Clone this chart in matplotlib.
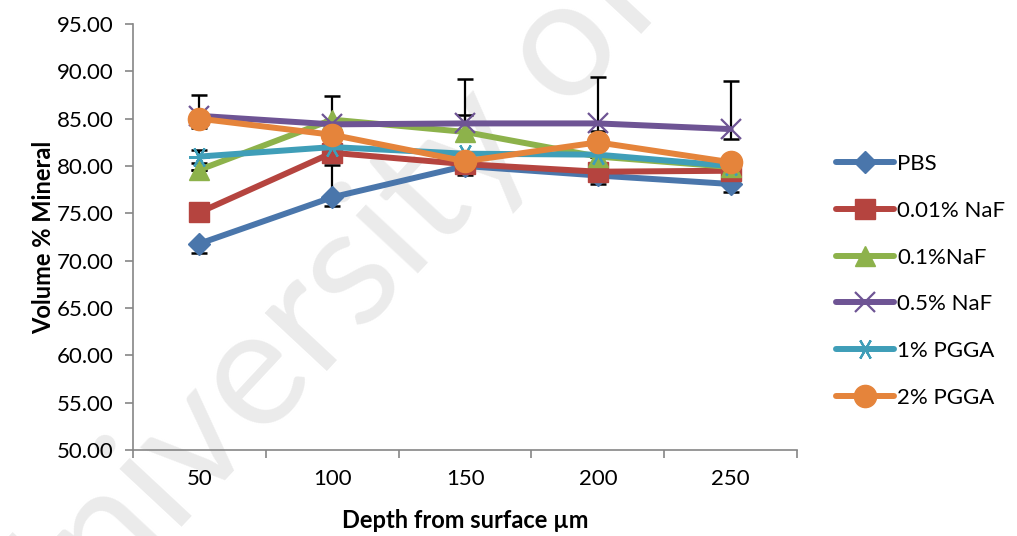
import numpy as np
import matplotlib
matplotlib.use("Agg")
import matplotlib.pyplot as plt

plt.rcParams['font.family'] = ['Lato', 'DejaVu Sans']

depths = ["50", "100", "150", "200", "250"]
series_names = ["PBS", "0.01% NaF", "0.1%NaF", "0.5% NaF", "1% PGGA", "2% PGGA"]

pbs = [71.8, 76.7, 80.0, 79.0, 78.1]
naf_001 = [75.1, 81.4, 80.2, 79.4, 79.5]
naf_01 = [79.6, 84.9, 83.6, 81.0, 79.9]
naf_05 = [85.3, 84.4, 84.5, 84.5, 83.9]
pgga_1 = [81.0, 82.0, 81.3, 81.2, 80.0]
pgga_2 = [85.0, 83.3, 80.5, 82.5, 80.4]

# error bars (lower, upper) as read from the caps
pbs_err = [[1.0, 0.95, 0.95, 0.9, 0.85], [0, 3.4, 0, 0, 0]]
naf_001_err = [[0, 0, 0, 0, 0], [1.0, 0, 0, 0, 0]]
naf_01_err = [[0, 0, 0, 0, 0], [0, 2.5, 1.8, 0, 0]]
naf_05_err = [[0, 0, 0, 0.8, 1.05], [2.2, 0, 4.7, 4.9, 5.1]]
pgga_1_err = [[0.7, 0, 0, 0, 0], [0.7, 0, 0, 0, 0]]
pgga_2_err = [[1.0, 0, 0, 0, 0], [0, 0, 0, 0, 0]]

values = [pbs, naf_001, naf_01, naf_05, pgga_1, pgga_2]
errors = [pbs_err, naf_001_err, naf_01_err, naf_05_err, pgga_1_err, pgga_2_err]
colors = ["#4A76AB", "#B5443F", "#8DB24B", "#6E5494", "#3F9EB8", "#E5843B"]
markers = ["D", "s", "^", "x", (6, 2, 90), "o"]
msizes = [11, 14, 14, 15, 15, 16]

fig = plt.figure(figsize=(10.17, 5.36), dpi=100)
fig.text(0.50, 0.80, "University of Malaya", fontsize=120, color="#EBEBEB",
         rotation=47, ha="center", va="center", rotation_mode="anchor", zorder=-1)
ax = fig.add_axes([0.1308, 0.1604, 0.6529, 0.7948])
ax.patch.set_alpha(0)

x = np.arange(len(depths)) + 0.5

for vals, err in zip(values, errors):
    lo = np.array(err[0])
    hi = np.array(err[1])
    ax.errorbar(x, vals, yerr=[lo, hi], fmt="none", ecolor="black",
                elinewidth=1.6, capsize=6, capthick=1.8, zorder=1)

for i, (vals, name) in enumerate(zip(values, series_names)):
    mk = markers[i]
    kw = dict(color=colors[i], lw=4.3, marker=mk, markersize=msizes[i],
              label=name, zorder=3 + i, solid_capstyle="round")
    if i in (3, 4):
        kw["markeredgewidth"] = 1.6
    ax.plot(x, vals, **kw)

ax.set_xlim(0, len(depths))
ax.set_ylim(50, 95)
ax.set_yticks(np.arange(50, 96, 5))
ax.set_yticklabels([f"{v:.2f}" for v in np.arange(50, 96, 5)])
ax.set_xticks(np.arange(len(depths) + 1))
ax.set_xticklabels([])
ax.set_xticks(x, minor=True)
ax.set_xticklabels(depths, minor=True)
ax.tick_params(axis="x", which="minor", length=0, pad=14, labelsize=16)
ax.tick_params(axis="x", which="major", length=6, color="#868686", width=1.2, direction="out")
ax.tick_params(axis="y", length=6, color="#868686", width=1.2, labelsize=16, pad=8)

for s in ["top", "right"]:
    ax.spines[s].set_visible(False)
for s in ["left", "bottom"]:
    ax.spines[s].set_color("#868686")
    ax.spines[s].set_linewidth(1.2)

ax.set_xlabel("Depth from surface µm", fontsize=17, fontweight="bold", labelpad=14)
ax.set_ylabel("Volume % Mineral", fontsize=17, fontweight="bold", labelpad=1)

leg = ax.legend(loc="center left", bbox_to_anchor=(1.045, 0.397), frameon=False,
                fontsize=16, handlelength=2.6, handletextpad=0.15,
                labelspacing=1.2, borderaxespad=0)

fig.savefig("out.png", dpi=100)
